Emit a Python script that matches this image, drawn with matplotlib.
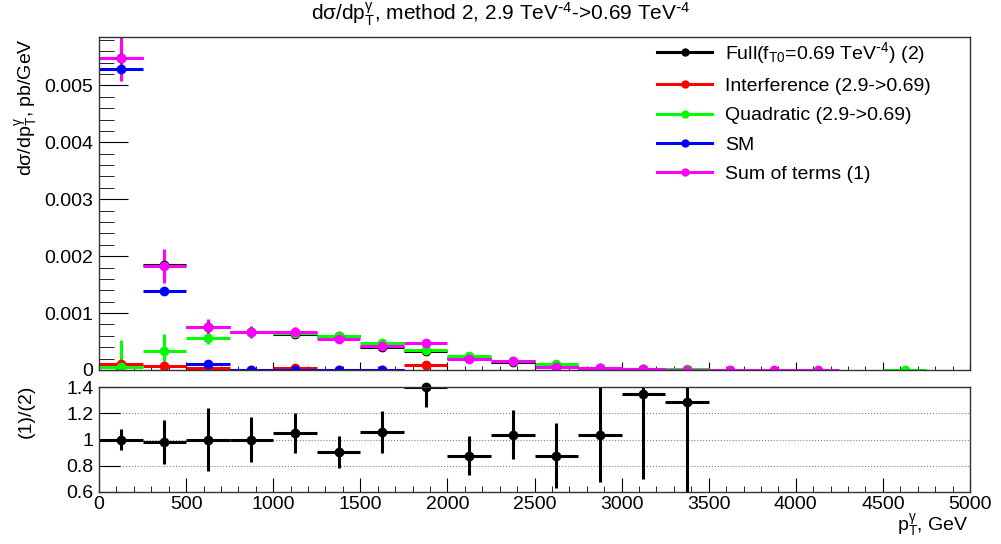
import numpy as np
import matplotlib
matplotlib.use("Agg")
import matplotlib.pyplot as plt
from matplotlib.lines import Line2D
from matplotlib.ticker import MultipleLocator, FixedLocator, FixedFormatter

plt.rcParams['font.family'] = ['Liberation Sans', 'DejaVu Sans']
plt.rcParams['mathtext.default'] = 'regular'

nan = np.nan

# pT bins, 250 GeV wide, 0..5000 GeV
bin_edges = np.arange(0, 5001, 250)

# d(sigma)/dpT in pb/GeV, one value per bin (nan = empty bin, not drawn)
full = [0.00548, 0.00185, 0.00075, 0.00067, 0.00064, 0.00060, 0.00041, 0.00034, 0.000216, 0.000145,
        0.00007, 0.00003, 0.000012, 0.000006, nan, nan, nan, nan, nan, nan]
full_err = [0.00025, 0.00012, 0.00008, 0.00006, 0.00005, 0.00004, 0.00004, 0.00003, 0.00002, 0.00002,
            0.00001, 0.00001, 0.000005, 0.000005, nan, nan, nan, nan, nan, nan]

interf = [0.0001, 0.00007, 0.00004, 0.0, 0.00003, 0.0, 0.0, 0.00008, nan, nan,
          nan, nan, nan, -0.00002, nan, nan, nan, nan, nan, nan]
interf_err = [0.00003, 0.00002, 0.00002, 0.00001, 0.00001, 0.00001, 0.00001, 0.00002, nan, nan,
              nan, nan, nan, 0.00001, nan, nan, nan, nan, nan, nan]

quad = [0.00005, 0.00033, 0.00056, 0.00066, 0.00065, 0.00059, 0.00047, 0.00035, 0.00025, 0.00015,
        0.0001, 0.00004, 0.00002, 0.00001, 0.000005, nan, nan, nan, 0.0, nan]
quad_err = [0.00048, 0.0003, 0.0001, 0.00006, 0.00004, 0.00003, 0.00003, 0.00003, 0.00002, 0.00002,
            0.00001, 0.00001, 0.000005, 0.000005, 0.000005, nan, nan, nan, 0.000005, nan]

sm = [0.00528, 0.00138, 0.0001, 0.0, 0.0, 0.0, 0.0, nan, nan, nan,
      nan, nan, nan, nan, nan, nan, nan, nan, nan, nan]
sm_err = [0.00007, 0.00002, 0.00001, 0.000005, 0.000005, 0.000005, 0.000005, nan, nan, nan,
          nan, nan, nan, nan, nan, nan, nan, nan, nan, nan]

sum_terms = [0.00548, 0.00182, 0.00075, 0.00067, 0.00067, 0.00054, 0.00043, 0.00047, 0.00019, 0.00015,
             0.00006, 0.00003, 0.000015, 0.000005, 0.0, 0.0, 0.0, nan, nan, nan]
sum_err = [0.0004, 0.0003, 0.00014, 0.0001, 0.00008, 0.00005, 0.00005, 0.00004, 0.00003, 0.00003,
           0.00002, 0.00001, 0.000005, 0.000005, 0.000005, 0.000005, 0.000005, nan, nan, nan]

# ratio (1)/(2)
ratio = [1.0, 0.982, 1.0, 1.0, 1.05, 0.904, 1.06, 1.40, 0.878, 1.038,
         0.878, 1.038, 1.35, 1.286, nan, nan, nan, nan, nan, nan]
ratio_err = [0.08, 0.17, 0.24, 0.17, 0.15, 0.12, 0.16, 0.15, 0.15, 0.19,
             0.25, 0.36, 0.65, 1.0, nan, nan, nan, nan, nan, nan]

series = [
    (full, full_err, 'black', r'Full(f$_{T0}$=0.69 TeV$^{\text{-}4}$) (2)'),
    (interf, interf_err, '#ff0000', 'Interference (2.9->0.69)'),
    (quad, quad_err, '#00ff00', 'Quadratic (2.9->0.69)'),
    (sm, sm_err, '#0000ff', 'SM'),
    (sum_terms, sum_err, '#ff00ff', 'Sum of terms (1)'),
]

centers = 0.5 * (bin_edges[:-1] + bin_edges[1:])
half_w = 0.5 * np.diff(bin_edges)

W, H = 1001, 544
fig = plt.figure(figsize=(W / 100, H / 100), dpi=100)
ax1 = fig.add_axes([99 / W, (H - 370) / H, 871 / W, 333 / H])
ax2 = fig.add_axes([99 / W, (H - 492) / H, 871 / W, 105 / H])

# upper pad
handles = []
for vals, errs, col, lab in series:
    ax1.errorbar(centers, vals, xerr=half_w, yerr=errs, fmt='o', color=col,
                 ms=6, lw=2.2, capsize=0)
    handles.append(Line2D([], [], color=col, lw=2.2, marker='o', ms=5))

ax1.set_xlim(0, 5000)
ax1.set_ylim(0, 0.00585)
ax1.xaxis.set_major_locator(MultipleLocator(500))
ax1.xaxis.set_minor_locator(MultipleLocator(100))
ax1.set_xticklabels([])
ax1.yaxis.set_major_locator(MultipleLocator(0.001))
ax1.yaxis.set_minor_locator(MultipleLocator(0.0002))
ax1.yaxis.set_major_formatter(FixedFormatter(['', '0', '0.001', '0.002', '0.003', '0.004', '0.005']))
ax1.tick_params(axis='y', which='major', direction='in', length=21, labelsize=14, pad=4)
ax1.tick_params(axis='y', which='minor', direction='in', length=11)
ax1.tick_params(axis='x', which='major', direction='in', length=6)
ax1.tick_params(axis='x', which='minor', direction='in', length=3)

ax1.legend(handles, [s[3] for s in series], loc='upper left',
           bbox_to_anchor=(657 / W, 1 - 40 / H), bbox_transform=fig.transFigure,
           frameon=False, fontsize=14, handlelength=2.83, handletextpad=0.67,
           labelspacing=0.6, borderpad=0, borderaxespad=0, numpoints=1)

# ratio pad
eb = ax2.errorbar(centers, ratio, xerr=half_w, yerr=ratio_err, fmt='o', color='black',
                  ms=6, lw=2.2, capsize=0)
eb[0].set_clip_on(False)
ax2.set_xlim(0, 5000)
ax2.set_ylim(0.6, 1.4)
ax2.yaxis.set_major_locator(FixedLocator([0.6, 0.8, 1.0, 1.2, 1.4]))
ax2.yaxis.set_major_formatter(FixedFormatter(['0.6', '0.8', '1', '1.2', '1.4']))
ax2.xaxis.set_major_locator(MultipleLocator(500))
ax2.xaxis.set_minor_locator(MultipleLocator(100))
ax2.tick_params(axis='y', which='major', direction='in', length=15, labelsize=14, pad=4)
ax2.tick_params(axis='x', which='major', direction='in', length=10, labelsize=14, pad=3)
ax2.tick_params(axis='x', which='minor', direction='in', length=4.5)
ax2.yaxis.grid(True, linestyle=':', color='gray', lw=0.8)

for ax in (ax1, ax2):
    for sp in ax.spines.values():
        sp.set_linewidth(1.0)
        sp.set_color('#333333')

# titles
fig.text(0.5, 1 - 14 / H,
         r'd$\sigma$/dp$_{T}^{\gamma}$, method 2, 2.9 TeV$^{\text{-}4}$->0.69 TeV$^{\text{-}4}$',
         ha='center', va='center', fontsize=15)
fig.text(26 / W, 1 - 38 / H, r'd$\sigma$/dp$_{T}^{\gamma}$, pb/GeV', rotation=90,
         ha='center', va='top', fontsize=14)
fig.text(26 / W, 1 - 385 / H, '(1)/(2)', rotation=90, ha='center', va='top', fontsize=14)
fig.text(969 / W, 1 - 525 / H, r'p$_{T}^{\gamma}$, GeV', ha='right', va='center', fontsize=14)

plt.savefig('out.png', dpi=100)
